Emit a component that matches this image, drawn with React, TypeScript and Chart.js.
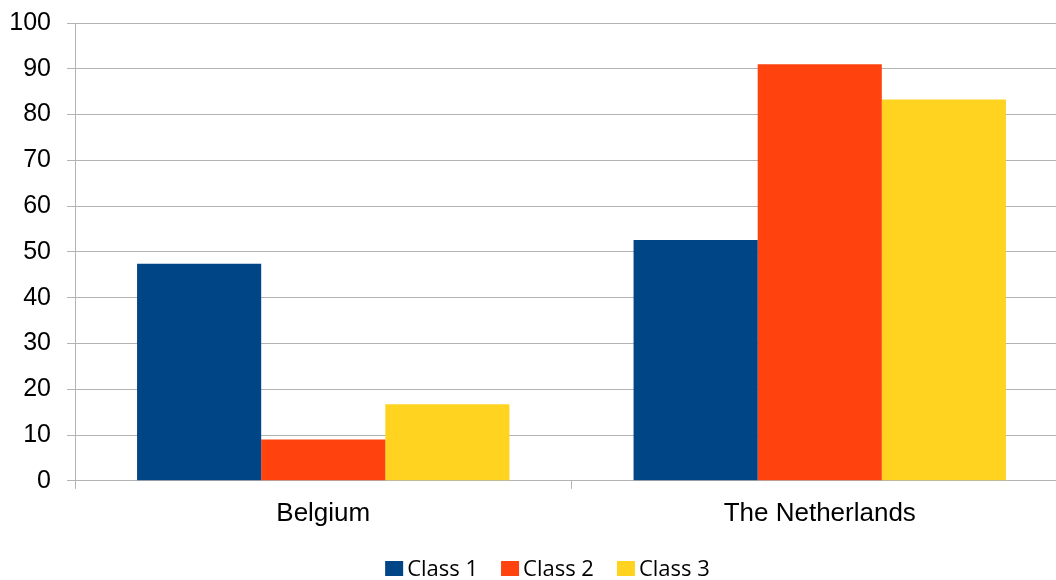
import React, { useEffect, useRef } from "react";
import { Chart, registerables } from "chart.js";

Chart.register(...registerables);

const categories = ["Belgium", "The Netherlands"];
const seriesNames = ["Class 1", "Class 2", "Class 3"];
const class1 = [47.4, 52.6];
const class2 = [9.0, 91.0];
const class3 = [16.7, 83.3];
const seriesColors = ["#004586", "#ff420e", "#ffd320"];
const yTicks = [0, 10, 20, 30, 40, 50, 60, 70, 80, 90, 100];

const AXIS_FONT = "'Liberation Sans', Arial, sans-serif";
const LEGEND_FONT = "'Open Sans', sans-serif";
const GRID = "#b3b3b3";

// Legend drawn under the x axis: small square swatch, tight gap, then the label.
const bottomLegend = {
  id: "bottomLegend",
  afterDraw(chart: Chart) {
    const ctx = chart.ctx;
    const box = 18;
    const boxH = 15;
    const gap = 4;
    const spacing = 23;
    ctx.save();
    ctx.font = `22px ${LEGEND_FONT}`;
    const items = chart.data.datasets.map((ds) => ({
      label: String(ds.label),
      color: String(ds.backgroundColor),
      w: ctx.measureText(String(ds.label)).width,
    }));
    const total =
      items.reduce((s, it) => s + box + gap + it.w, 0) + spacing * (items.length - 1);
    let x = 547.5 - total / 2;
    const baseline = 576;
    ctx.textBaseline = "alphabetic";
    ctx.textAlign = "left";
    for (const it of items) {
      ctx.fillStyle = it.color;
      ctx.fillRect(x, baseline - boxH, box, boxH);
      x += box + gap;
      ctx.fillStyle = "#000";
      ctx.fillText(it.label, x, baseline);
      x += it.w + spacing;
    }
    ctx.restore();
  },
};

export default function App() {
  const ref = useRef<HTMLCanvasElement | null>(null);

  useEffect(() => {
    const canvas = ref.current;
    if (!canvas) return;
    const values = [class1, class2, class3];
    const chart = new Chart(canvas, {
      type: "bar",
      data: {
        labels: categories,
        datasets: seriesNames.map((name, i) => ({
          label: name,
          data: values[i],
          backgroundColor: seriesColors[i],
          borderWidth: 0,
          categoryPercentage: 0.75,
          barPercentage: 1.0,
        })),
      },
      options: {
        responsive: false,
        animation: false,
        layout: { padding: { top: 23, right: 0, bottom: 42, left: 0 } },
        plugins: {
          legend: { display: false },
          tooltip: { enabled: false },
        },
        scales: {
          x: {
            offset: true,
            grid: {
              offset: true,
              drawOnChartArea: false,
              drawTicks: true,
              tickLength: 8,
              color: GRID,
            },
            border: { color: GRID, width: 1 },
            ticks: {
              padding: 9,
              color: "#000",
              font: { family: AXIS_FONT, size: 26 },
            },
          },
          y: {
            min: 0,
            max: 100,
            afterFit(scale: any) {
              scale.width = 75;
              scale.paddingTop = 0;
              scale.paddingBottom = 0;
            },
            afterBuildTicks(scale: any) {
              scale.ticks = yTicks.map((v) => ({ value: v }));
            },
            grid: {
              color: GRID,
              tickLength: 8,
              drawTicks: true,
            },
            border: { color: GRID, width: 1 },
            ticks: {
              padding: 16,
              color: "#000",
              font: { family: AXIS_FONT, size: 25 },
            },
          },
        },
      },
      plugins: [bottomLegend],
    });
    return () => chart.destroy();
  }, []);

  return (
    <div
      style={{
        position: "absolute",
        left: 0,
        top: 0,
        width: 1056,
        height: 580,
        overflow: "hidden",
        background: "#fff",
      }}
    >
      <canvas ref={ref} width={1068} height={580} style={{ display: "block" }} />
    </div>
  );
}
